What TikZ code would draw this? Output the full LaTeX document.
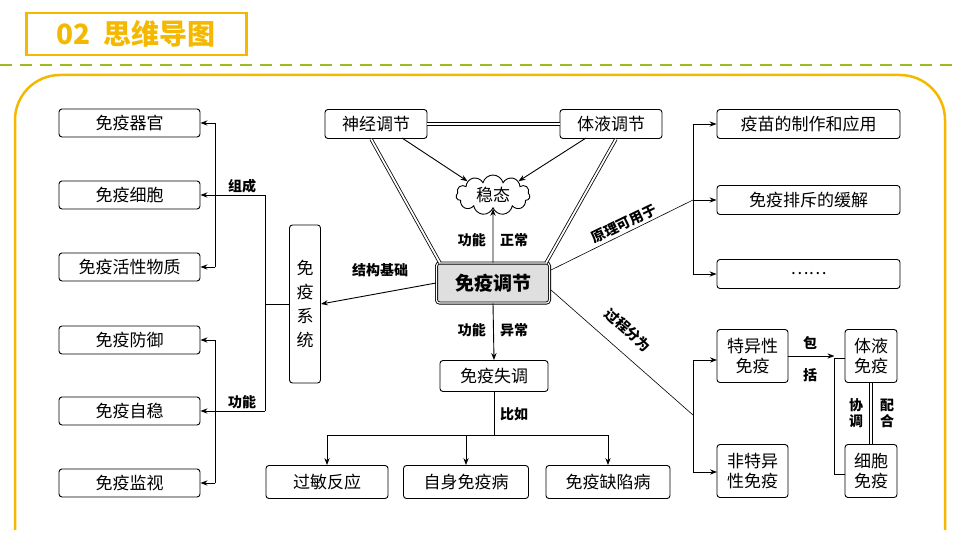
\documentclass[tikz,border=0pt]{standalone}
\usepackage{fontspec}
\setmainfont{Noto Sans CJK SC}
\usetikzlibrary{shapes.symbols,arrows.meta}
\begin{document}
\begin{tikzpicture}[x=1pt,y=-1pt,
 box/.style={draw,rounded corners=3pt,line width=0.9pt,font=\fontsize{17}{20}\selectfont,inner sep=0pt,align=center},
 lab/.style={font=\fontsize{14}{16}\selectfont\bfseries,inner sep=1pt},
 arr/.style={-{Stealth[length=7pt]},line width=0.9pt},
 ln/.style={line width=0.9pt},
 dbl/.style={double,double distance=1.8pt,line width=0.8pt}]
\useasboundingbox (0,0) rectangle (960,540);
\definecolor{org}{HTML}{F5B800}\definecolor{grn}{HTML}{9BBB1F}
% header
\node[draw=org,line width=2.5pt,minimum width=220pt,minimum height=42pt,anchor=north west,text=org,font=\fontsize{28}{30}\selectfont\bfseries] (title) at (25,12) {02\ \ 思维导图};
\draw[grn,line width=2.5pt,dash pattern=on 12pt off 8pt] (0,65)--(960,65);
\draw[org,line width=2.5pt,rounded corners=45pt] (15,530)--(15,75)--(945,75)--(945,530);
% left boxes
\foreach \n/\t/\y in {l1/免疫器官/123,l2/免疫细胞/195,l3/免疫活性物质/267,l4/免疫防御/340,l5/免疫自稳/411,l6/免疫监视/483}
 \node[box,minimum width=141pt,minimum height=28pt] (\n) at (129.5,\y) {\t};
\node[box,minimum width=31pt,minimum height=158pt] (sys) at (305,304) {免\\[4pt]疫\\[4pt]系\\[4pt]统};
\coordinate (j) at (265,304);
\coordinate (ja) at (265,195); \coordinate (jb) at (265,411);
\coordinate (ka) at (215,195); \coordinate (kb) at (215,411);
\draw[ln] (sys.west)--(j);
\draw[ln] (ja)--(jb) (ja)--(ka) (jb)--(kb) (215,123)--(215,267) (215,340)--(215,483);
\foreach \n in {l1,l2,l3,l4,l5,l6}{\draw[arr] (\n.east) ++(15,0) -- (\n.east);}
\node[lab,anchor=south] at (242,194) {组成};
\node[lab,anchor=south] at (242,410) {功能};
% center
\node[box,fill=gray!25,double,double distance=1.2pt,minimum width=113pt,minimum height=40pt,font=\fontsize{19}{21}\selectfont\bfseries] (c) at (493,283) {免疫调节};
\node[cloud,draw,cloud puffs=11,aspect=2,minimum width=74pt,minimum height=40pt,line width=0.9pt,inner sep=0pt,font=\fontsize{17}{19}\selectfont] (st) at (493,195) {稳态};
\node[box,minimum width=102pt,minimum height=29pt] (n) at (376,124) {神经调节};
\node[box,minimum width=102pt,minimum height=29pt] (h) at (611,124) {体液调节};
\draw[dbl] (n.east)--(h.west);
\draw[ln] (n.south)++(-5,0) coordinate (n1);
\draw[ln] (h.south)++(5,0) coordinate (h1);
\coordinate (c1) at (440,263); \coordinate (c2) at (546,263);
\draw[dbl] (n1)--(c1);
\draw[dbl] (h1)--(c2);
\coordinate (na) at (402,138); \coordinate (ha) at (586,138);
\draw[arr] (na) -- (st.north west);
\draw[arr] (ha) -- (st.north east);
\draw[arr] (c.north)--(st.south);
\node[lab,anchor=east] at (487,240) {功能};
\node[lab,anchor=west] at (499,240) {正常};
\draw[arr] (c.west)--(sys.east);
\node[lab] at (380,270) {结构基础};
\node[box,minimum width=108pt,minimum height=31pt] (d) at (494,376) {免疫失调};
\draw[arr] (c.south)--(d.north);
\node[lab,anchor=east] at (487,330) {功能};
\node[lab,anchor=west] at (499,330) {异常};
% bottom
\node[box,minimum width=122pt,minimum height=33pt] (b1) at (327,482) {过敏反应};
\node[box,minimum width=125pt,minimum height=33pt] (b2) at (466,482) {自身免疫病};
\node[box,minimum width=124pt,minimum height=33pt] (b3) at (608,482) {免疫缺陷病};
\coordinate (bm) at (494,435);
\draw[ln] (d.south)--(bm) (327,435)--(608,435);
\foreach \b in {b1,b2,b3} \draw[arr] (\b.north) ++(0,-30) -- (\b.north);
\node[lab,anchor=west] at (499,414) {比如};
% right top
\node[box,minimum width=183pt,minimum height=29pt] (r1) at (808.5,124) {疫苗的制作和应用};
\node[box,minimum width=183pt,minimum height=29pt] (r2) at (808.5,200) {免疫排斥的缓解};
\node[box,minimum width=183pt,minimum height=29pt] (r3) at (808.5,274) {……};
\coordinate (rb) at (693,200);
\coordinate (ce1) at (551,270);
\draw[ln,line width=0.6pt] (ce1) -- (rb);
\draw[ln] (693,124)--(693,274);
\foreach \n in {r1,r2,r3} \draw[arr] (\n.west) ++(-24,0) -- (\n.west);
\node[lab,rotate=26] at (624,224) {原理可用于};
% right bottom
\node[box,minimum width=71pt,minimum height=53pt] (s1) at (752.5,356) {特异性\\免疫};
\node[box,minimum width=71pt,minimum height=53pt] (s2) at (752.5,471) {非特异\\性免疫};
\coordinate (sb) at (693,415);
\coordinate (ce2) at (551,290);
\draw[ln,line width=0.6pt] (ce2) -- (sb);
\draw[ln] (693,360)--(693,472);
\coordinate (p1) at (693,360); \coordinate (p2) at (693,472);
\draw[arr] (p1)--(717,360);
\draw[arr] (p2)--(717,472);
\node[lab,rotate=-42] at (628,330) {过程分为};
\node[box,minimum width=52pt,minimum height=53pt] (t1) at (871,356) {体液\\免疫};
\node[box,minimum width=52pt,minimum height=53pt] (t2) at (871,471) {细胞\\免疫};
\draw[arr] (s1.east) -- ++(46,0);
\draw[ln] (845,358)--(834,358)--(834,474)--(845,474);
\node[lab] at (810,343) {包};
\node[lab] at (810,375) {括};
\coordinate (u1) at (871,383); \coordinate (u2) at (871,444);
\draw[dbl] (u1) -- (u2);
\node[lab,align=center] at (856,413) {协\\调};
\node[lab,align=center] at (887,413) {配\\合};
\end{tikzpicture}
\end{document}
